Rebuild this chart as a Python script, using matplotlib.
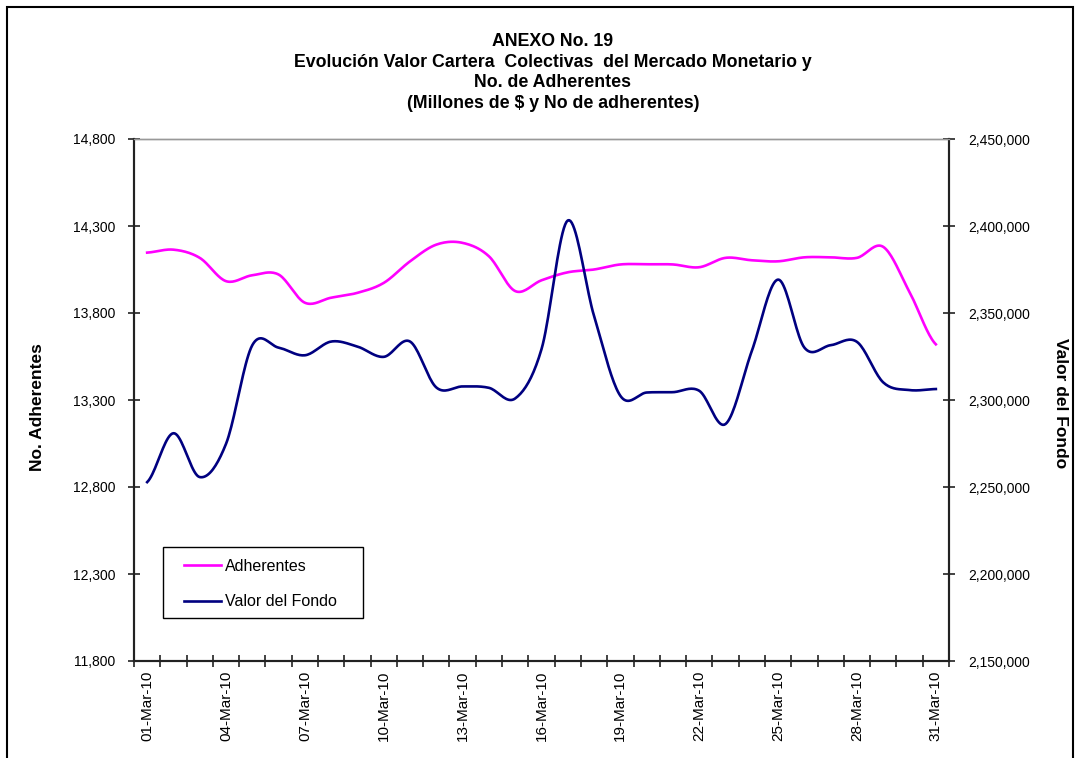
import numpy as np
import matplotlib
matplotlib.use("Agg")
import matplotlib.pyplot as plt
from matplotlib.patches import Rectangle
from matplotlib.ticker import FuncFormatter

plt.rcParams['font.family'] = ['Liberation Sans', 'DejaVu Sans']

# datos (1 al 31 de marzo 2010)
fechas = ["%02d-Mar-10" % d for d in range(1, 32)]
adherentes = [14147, 14164, 14117, 13983, 14017, 14021, 13859, 13888, 13916, 13973,
              14097, 14193, 14203, 14126, 13926, 13988, 14034, 14050, 14079, 14080,
              14079, 14063, 14117, 14103, 14097, 14120, 14120, 14117, 14180, 13920,
              13620]
valor_fondo = [2252800, 2280900, 2255700, 2274800, 2331500, 2330100, 2325700, 2333600,
               2330700, 2324800, 2333600, 2307200, 2307800, 2307000, 2300900, 2329200,
               2403200, 2348200, 2302400, 2304300, 2304500, 2305300, 2286200, 2328200,
               2369200, 2330100, 2331500, 2333400, 2310100, 2305700, 2306300]


def suavizar(y, n=20):
    # curva suavizada tipo Excel (Catmull-Rom) entre los puntos
    y = np.asarray(y, dtype=float)
    k = len(y)
    xs, ys = [], []
    for i in range(k - 1):
        p0 = y[i - 1] if i > 0 else y[i]
        p3 = y[i + 2] if i + 2 < k else y[i + 1]
        p1, p2 = y[i], y[i + 1]
        m1 = (p2 - p0) / 2.0
        m2 = (p3 - p1) / 2.0
        t = np.linspace(0, 1, n, endpoint=False)
        h00 = 2 * t**3 - 3 * t**2 + 1
        h10 = t**3 - 2 * t**2 + t
        h01 = -2 * t**3 + 3 * t**2
        h11 = t**3 - t**2
        xs.append(i + t)
        ys.append(h00 * p1 + h10 * m1 + h01 * p2 + h11 * m2)
    xs.append([k - 1])
    ys.append([y[-1]])
    return np.concatenate(xs), np.concatenate(ys)


fig = plt.figure(figsize=(10.8, 7.58), dpi=100)
ax = fig.add_axes([134 / 1080, 1 - 661 / 758, 815 / 1080, 522 / 758])
ax2 = ax.twinx()
ax.patch.set_visible(False)
ax2.patch.set_visible(False)
ax.set_zorder(1)
ax2.set_zorder(2)

x = np.arange(len(fechas))
xa, ya = suavizar(adherentes)
xv, yv = suavizar(valor_fondo)
l1, = ax.plot(xa, ya, color='#FF00FF', lw=1.9, label='Adherentes')
l2, = ax2.plot(xv, yv, color='#000080', lw=1.9, label='Valor del Fondo')

ax.set_xlim(-0.5, len(fechas) - 0.5)
ax.set_ylim(11800, 14800)
ax2.set_ylim(2150000, 2450000)
ax.set_yticks(np.arange(11800, 14801, 500))
ax2.set_yticks(np.arange(2150000, 2450001, 50000))
fmt = FuncFormatter(lambda v, p: "{:,.0f}".format(v))
ax.yaxis.set_major_formatter(fmt)
ax2.yaxis.set_major_formatter(fmt)

# marcas entre categorias, etiquetas cada 3 dias
ax.set_xticks(np.arange(-0.5, len(fechas), 1.0))
ax.set_xticklabels([])
ax.set_xticks(x[::3], minor=True)
ax.set_xticklabels([fechas[i] for i in x[::3]], minor=True, rotation=90, fontsize=11)
ax.tick_params(axis='x', which='major', direction='inout', length=9, width=1.2, color='#222222')
ax.tick_params(axis='x', which='minor', length=0, pad=7)
ax.tick_params(axis='y', direction='inout', length=9, width=1.2, color='#222222',
               labelsize=10, pad=9)
ax2.tick_params(axis='y', direction='inout', length=9, width=1.2, color='#222222',
                labelsize=10, pad=9)

for a in (ax, ax2):
    for s in ('left', 'right', 'bottom'):
        a.spines[s].set_color('#222222')
        a.spines[s].set_linewidth(1.5)
    a.spines['top'].set_color('#999999')
    a.spines['top'].set_linewidth(1.0)

fig.text(37 / 1080, 1 - 407 / 758, 'No. Adherentes', rotation=90, ha='center', va='center',
         fontsize=12.5, fontweight='bold')
fig.text(1060 / 1080, 1 - 403 / 758, 'Valor del Fondo', rotation=-90, ha='center', va='center',
         fontsize=12.5, fontweight='bold')

titulos = ["ANEXO No. 19",
           "Evolución Valor Cartera  Colectivas  del Mercado Monetario y",
           "No. de Adherentes",
           "(Millones de $ y No de adherentes)"]
for j, t in enumerate(titulos):
    fig.text(553 / 1080, 1 - (42 + 20.4 * j) / 758, t, ha='center', va='center',
             fontsize=12.8, fontweight='bold')

# leyenda sin marco + recuadro aparte
leg = ax2.legend(handles=[l1, l2], loc='center left',
                 bbox_to_anchor=(184 / 1080, 1 - 584 / 758),
                 bbox_transform=fig.transFigure, fontsize=11.5, frameon=False,
                 borderpad=0, labelspacing=1.3, handlelength=2.3,
                 handletextpad=0.25, borderaxespad=0)
fig.patches.append(Rectangle((163 / 1080, 1 - 618 / 758), 200 / 1080, 71 / 758,
                             transform=fig.transFigure, fill=True, facecolor='white',
                             edgecolor='black', lw=1.0, zorder=0.5))

fig.patches.append(Rectangle((7 / 1080, -0.05), 1066 / 1080, 1.05 - 7 / 758,
                             transform=fig.transFigure, fill=False, edgecolor='black',
                             lw=1.5, clip_on=False))

fig.savefig('out.png', dpi=100)
